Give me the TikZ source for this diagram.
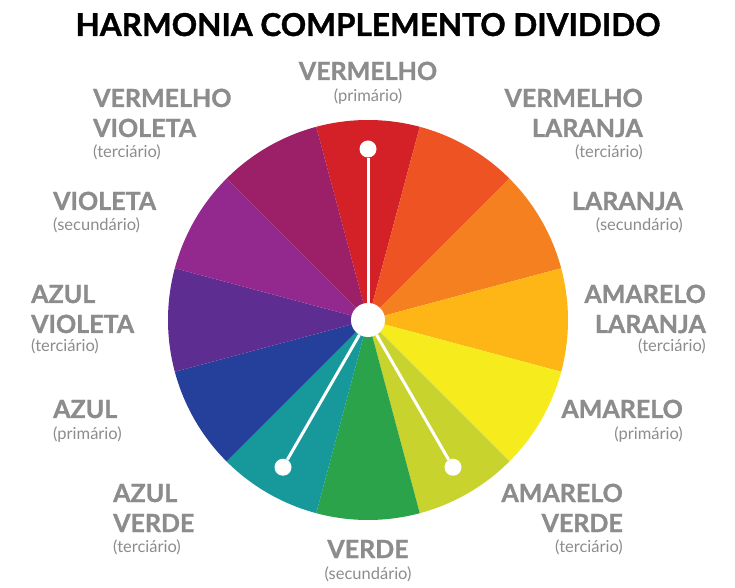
\documentclass[tikz,border=0pt]{standalone}
\usepackage{fontspec}
\setmainfont{Lato}[BoldFeatures={FakeBold=1.2}]
\usepackage{xcolor}
\usepackage{tikz}

\definecolor{cinza}{RGB}{140,140,140}
\definecolor{vermelho}{RGB}{212,32,39}
\definecolor{vermlaranja}{RGB}{238,83,35}
\definecolor{laranja}{RGB}{244,128,32}
\definecolor{amarlaranja}{RGB}{253,182,21}
\definecolor{amarelo}{RGB}{246,235,29}
\definecolor{amarverde}{RGB}{200,211,46}
\definecolor{verde}{RGB}{42,163,74}
\definecolor{azulverde}{RGB}{23,153,155}
\definecolor{azul}{RGB}{37,64,154}
\definecolor{azulvioleta}{RGB}{94,45,145}
\definecolor{violeta}{RGB}{147,40,143}
\definecolor{vermvioleta}{RGB}{156,32,104}

\begin{document}
\begin{tikzpicture}[x=1pt,y=1pt,
  nome/.style={text=cinza,font=\bfseries\fontsize{25}{30}\selectfont,inner sep=0pt},
  tipo/.style={text=cinza,font=\fontsize{16.5}{18}\selectfont,inner sep=0pt},
  ponto/.style={circle,fill=white,inner sep=0pt,minimum size=17pt},
  raio/.style={white,line width=3pt}]
\useasboundingbox (-368,-268) rectangle (367,320);
\node[font=\bfseries\fontsize{31.5}{33}\selectfont,inner sep=0pt,anchor=base] (titulo) at (0,284) {HARMONIA COMPLEMENTO DIVIDIDO};
% roda de cores
\foreach \a/\c in {90/vermelho,60/vermlaranja,30/laranja,0/amarlaranja,-30/amarelo,-60/amarverde,
  -90/verde,-120/azulverde,-150/azul,180/azulvioleta,150/violeta,120/vermvioleta}
  \fill[\c] (0,0) -- ({\a-15}:200pt) arc[start angle=\a-15,end angle=\a+15,radius=200pt] -- cycle;
% complemento dividido
\node[ponto,minimum size=34pt] (centro) at (0,0) {};
\node[ponto] (topo) at (90:171pt) {};
\node[ponto] (esq) at (-120:170pt) {};
\node[ponto] (dir) at (-60:170pt) {};
\draw[raio] (centro) -- (topo);
\draw[raio] (centro) -- (esq);
\draw[raio] (centro) -- (dir);
% nomes, lado esquerdo
\node[nome,anchor=base] (n1) at (0,240) {VERMELHO};
\node[tipo,anchor=base] (t1) at (0,218) {(primário)};
\node[nome,anchor=base west,align=left] (n2) at (-275,183) {VERMELHO\\VIOLETA};
\node[tipo,anchor=base west] (t2) at (-275,162) {(terciário)};
\node[nome,anchor=base west] (n3) at (-315,110) {VIOLETA};
\node[tipo,anchor=base west] (t3) at (-315,89) {(secundário)};
\node[nome,anchor=base west,align=left] (n4) at (-337,-13) {AZUL\\VIOLETA};
\node[tipo,anchor=base west] (t4) at (-337,-32) {(terciário)};
\node[nome,anchor=base west] (n5) at (-315,-98) {AZUL};
\node[tipo,anchor=base west] (t5) at (-315,-119) {(primário)};
\node[nome,anchor=base west,align=left] (n6) at (-255,-212) {AZUL\\VERDE};
\node[tipo,anchor=base west] (t6) at (-255,-232) {(terciário)};
\node[nome,anchor=base] (n7) at (0,-238) {VERDE};
\node[tipo,anchor=base] (t7) at (0,-259) {(secundário)};
% nomes, lado direito
\node[nome,anchor=base east,align=right] (n8) at (275,183) {VERMELHO\\LARANJA};
\node[tipo,anchor=base east] (t8) at (275,162) {(terciário)};
\node[nome,anchor=base east] (n9) at (315,110) {LARANJA};
\node[tipo,anchor=base east] (t9) at (315,89) {(secundário)};
\node[nome,anchor=base east,align=right] (n10) at (338,-13) {AMARELO\\LARANJA};
\node[tipo,anchor=base east] (t10) at (338,-32) {(terciário)};
\node[nome,anchor=base east] (n11) at (315,-98) {AMARELO};
\node[tipo,anchor=base east] (t11) at (315,-119) {(primário)};
\node[nome,anchor=base east,align=right] (n12) at (255,-212) {AMARELO\\VERDE};
\node[tipo,anchor=base east] (t12) at (255,-232) {(terciário)};
\end{tikzpicture}
\end{document}
